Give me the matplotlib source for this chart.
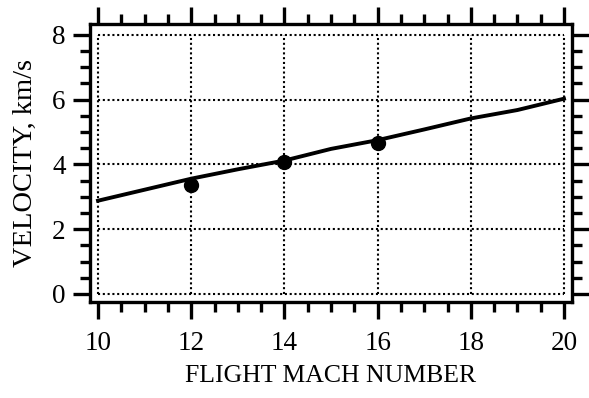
# Velocity vs flight Mach number, line with measured points.
import matplotlib.pyplot as plt
from matplotlib.ticker import MultipleLocator

plt.rcParams["font.family"] = "Liberation Serif"

mach = [10, 11, 12, 13, 14, 15, 16, 17, 18, 19, 20]
velocity = [2.88, 3.22, 3.56, 3.85, 4.12, 4.48, 4.75, 5.08, 5.42, 5.68, 6.03]
mach_pts = [12, 14, 16]
vel_pts = [3.38, 4.07, 4.66]
xticks = [10, 12, 14, 16, 18, 20]
yticks = [0, 2, 4, 6, 8]

fig = plt.figure(figsize=(5.89, 3.98), dpi=100)
ax = fig.add_axes([0.153, 0.241, 0.818, 0.699])

# dotted grid box only spans the data range
ax.hlines(yticks, 10, 20, colors="black", linestyles=(0, (1, 1.3)), linewidth=1.5)
ax.vlines(xticks, 0, 8, colors="black", linestyles=(0, (1, 1.3)), linewidth=1.5)

ax.plot(mach, velocity, color="black", linewidth=2.8)
ax.plot(mach_pts, vel_pts, "o", color="black", markersize=10)

ax.set_xlim(9.83, 20.17)
ax.set_ylim(-0.25, 8.34)
ax.set_xticks(xticks)
ax.set_yticks(yticks)
ax.xaxis.set_minor_locator(MultipleLocator(0.5))
ax.yaxis.set_minor_locator(MultipleLocator(0.5))

ax.tick_params(which="both", direction="out", top=True, right=True,
               labeltop=False, labelright=False, width=2.4, labelsize=19.5)
ax.tick_params(which="major", length=12.5)
ax.tick_params(which="minor", length=7.5)
ax.tick_params(axis="x", which="major", pad=8)
ax.tick_params(axis="y", which="major", pad=5)
for s in ax.spines.values():
    s.set_linewidth(2.4)

ax.set_xlabel("FLIGHT MACH NUMBER", fontsize=18.5, labelpad=7)
ax.set_ylabel("VELOCITY, km/s", fontsize=20.5, labelpad=10)

fig.savefig("out.png", dpi=100)
